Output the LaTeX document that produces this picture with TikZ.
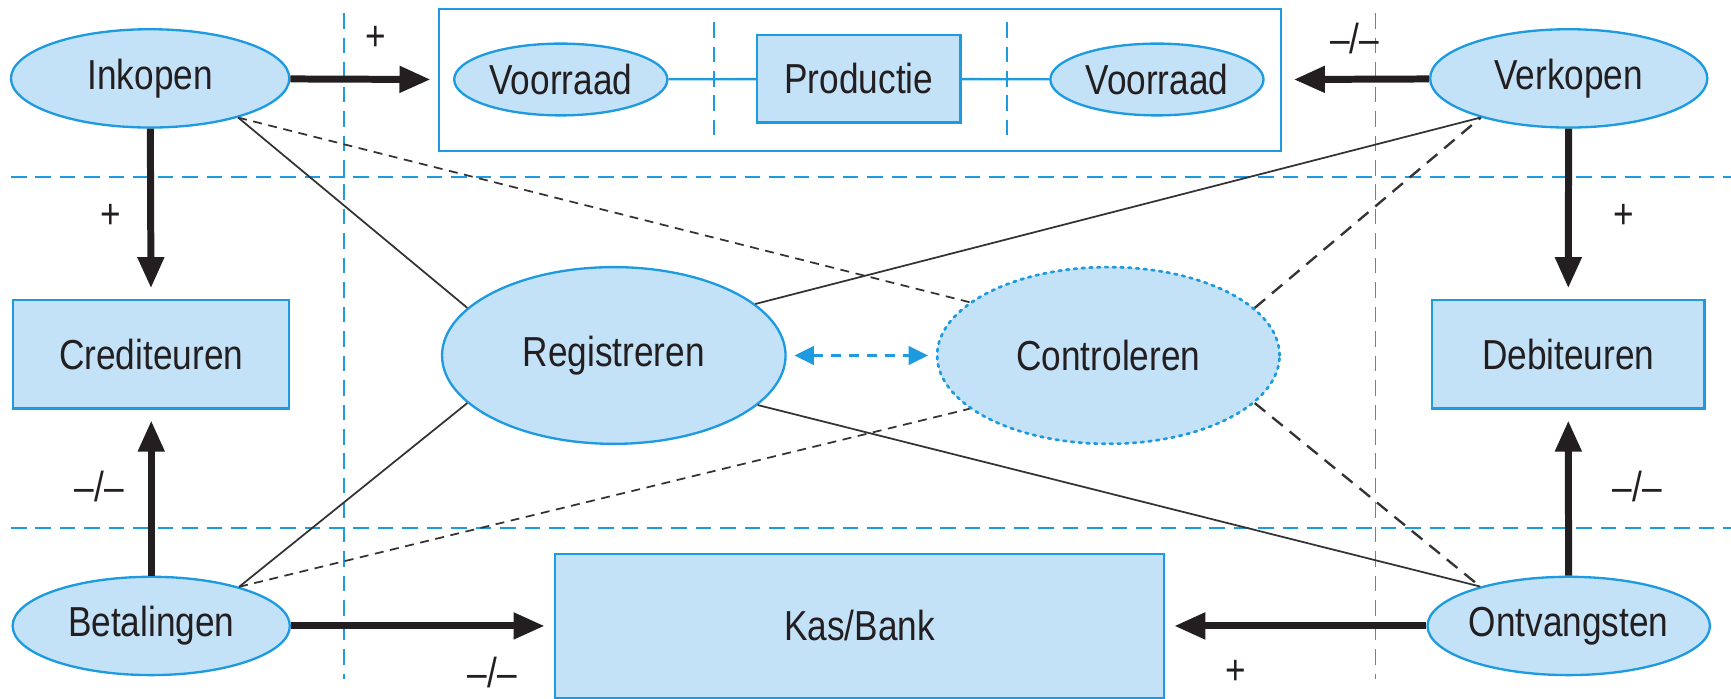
\documentclass[tikz,border=0pt]{standalone}
\usepackage{fontspec}
\setmainfont[FakeStretch=0.84]{Liberation Sans}
\usetikzlibrary{arrows.meta,shapes.geometric}
\definecolor{bl}{HTML}{1E9BE0}
\definecolor{fillb}{HTML}{C3E1F7}
\definecolor{ink}{HTML}{231F20}
\definecolor{thin}{HTML}{333333}
\begin{document}
\begin{tikzpicture}[x=0.01cm,y=-0.01cm,
  every node/.style={font=\fontsize{10.8}{13}\selectfont, text=ink},
  ell/.style={ellipse, draw=bl, fill=fillb, line width=0.6pt, inner sep=0pt},
  rbox/.style={rectangle, draw=bl, fill=fillb, line width=0.6pt, inner sep=0pt},
  guide/.style={draw=bl, line width=0.5pt, dash pattern=on 4pt off 2.3pt},
  bigarrow/.style={draw=ink, line width=1.8pt, -{Triangle[length=8pt,width=6.5pt]}},
  solidlink/.style={draw=thin, line width=0.45pt},
  dashlink/.style={draw=thin, line width=0.45pt, dash pattern=on 2.3pt off 1.7pt},
  dashlinkb/.style={draw=thin, line width=0.6pt, dash pattern=on 3.5pt off 2.3pt},
  sign/.style={font=\fontsize{10.8}{13}\selectfont, inner sep=0pt}
]
\useasboundingbox (0,0) rectangle (1568,633);

% guide lines
\draw[guide] (312,12) -- (312,615);
\draw[guide] (1246,12) -- (1246,615);
\draw[guide] (10,160) -- (1568,160);
\draw[guide] (10,478) -- (1568,478);

% top box
\node[draw=bl, line width=0.6pt, fill=white, minimum width=7.62cm, minimum height=1.29cm, inner sep=0pt] (top) at (779,72.5) {};
\draw[guide] (647,20) -- (647,127);
\draw[guide] (912,20) -- (912,127);

% nodes
\node[ell, minimum width=1.93cm, minimum height=0.65cm] (vl) at (508,72) {Voorraad};
\node[rbox, minimum width=1.84cm, minimum height=0.79cm] (prod) at (778,71.5) {Productie};
\node[ell, minimum width=1.93cm, minimum height=0.65cm] (vr) at (1048,72) {Voorraad};
\draw[bl, line width=0.6pt] (vl) -- (prod);
\draw[bl, line width=0.6pt] (prod) -- (vr);

\node[ell, minimum width=2.52cm, minimum height=0.89cm] (ink) at (136,71) {Inkopen};
\node[ell, minimum width=2.51cm, minimum height=0.89cm] (ver) at (1421,71) {Verkopen};
\node[ell, minimum width=2.51cm, minimum height=0.89cm] (bet) at (137,567) {Betalingen};
\node[ell, minimum width=2.51cm, minimum height=0.89cm] (ont) at (1421,567) {Ontvangsten};

\node[rbox, minimum width=2.50cm, minimum height=0.98cm] (cred) at (137,321) {Crediteuren};
\node[rbox, minimum width=2.47cm, minimum height=0.98cm] (deb) at (1420.5,321) {Debiteuren};
\node[rbox, minimum width=5.51cm, minimum height=1.30cm] (kas) at (778.5,567) {Kas/Bank};

\node[ell, minimum width=3.11cm, minimum height=1.60cm] (reg) at (556,322) {Registreren};
\node[ellipse, draw=bl, fill=fillb, line width=0.7pt, dash pattern=on 0.7pt off 1.3pt, line cap=round, inner sep=0pt, minimum width=3.10cm, minimum height=1.60cm] (con) at (1004,322) {Controleren};

% thin links
\draw[solidlink] (ink.-24) -- (reg.162);
\draw[solidlink] (bet.24) -- (reg.198);
\draw[solidlink] (reg.20) -- (ver.204);
\draw[solidlink] (reg.-19) -- (ont.156);
\draw[dashlink] (ink.-24) -- (con.159);
\draw[dashlink] (bet.24) -- (con.201);
\draw[dashlinkb] (con.18) -- (ver.204);
\draw[dashlinkb] (con.-18) -- (ont.156);

% blue double arrow
\draw[bl, line width=0.6pt, dash pattern=on 2.6pt off 2pt, {Triangle[length=5pt,width=4.8pt]}-{Triangle[length=5pt,width=4.8pt]}, shorten <=2pt, shorten >=2pt] (reg) -- (con);

% thick arrows
\coordinate (tl) at (390,72);
\coordinate (tr) at (1172,72);
\draw[bigarrow] (ink) -- (tl);
\draw[bigarrow] (ver) -- (tr);
\draw[bigarrow, shorten >=2.8pt] (ink) -- (cred);
\draw[bigarrow, shorten >=2.8pt] (bet) -- (cred);
\draw[bigarrow, shorten >=2.8pt] (ver) -- (deb);
\draw[bigarrow, shorten >=2.8pt] (ont) -- (deb);
\draw[bigarrow, shorten >=2.4pt] (bet) -- (kas);
\draw[bigarrow, shorten >=2.4pt] (ont) -- (kas);

% signs
\node[sign] (s1) at (340,35) {+};
\node[sign] (s2) at (1227,35) {–/–};
\node[sign] (s3) at (100,196) {+};
\node[sign] (s4) at (1471,196) {+};
\node[sign] (s5) at (90,441) {–/–};
\node[sign] (s6) at (1483,441) {–/–};
\node[sign] (s7) at (446,609) {–/–};
\node[sign] (s8) at (1119,609) {+};
\end{tikzpicture}
\end{document}
